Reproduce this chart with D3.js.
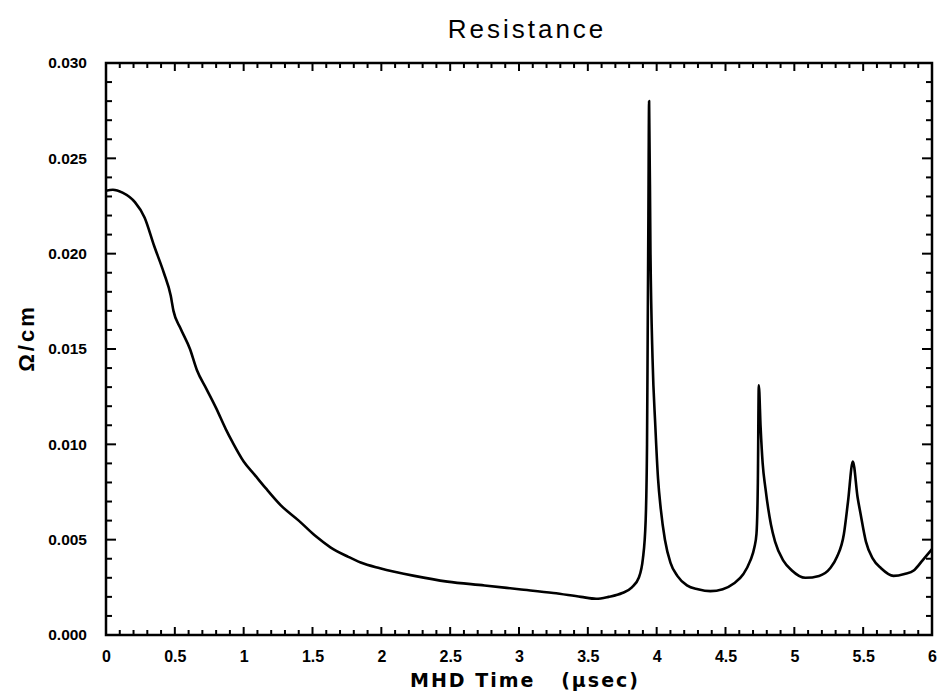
<!DOCTYPE html>
<html>
<head>
<meta charset="utf-8">
<script src="https://cdn.jsdelivr.net/npm/d3@7"></script>
<style>
  body { margin: 0; background: #fff; }
  text { font-family: "Liberation Sans", Arial, sans-serif; fill: #000; }
</style>
</head>
<body>
<div id="chart"></div>
<script>
// time (usec) and resistance (ohm/cm)
const times = [0, 0.05, 0.12, 0.21, 0.28, 0.35, 0.42, 0.47, 0.49, 0.54, 0.61, 0.66, 0.73, 0.80, 0.87, 0.92,
  1.0, 1.08, 1.16, 1.27, 1.40, 1.52, 1.63, 1.76, 1.85, 1.99, 2.24, 2.48, 2.75, 3.0, 3.25, 3.45, 3.56, 3.65, 3.75,
  3.82, 3.87, 3.90, 3.92, 3.93, 3.935, 3.94, 3.945, 3.955, 3.97, 3.99, 4.01, 4.03, 4.06, 4.10, 4.15, 4.22,
  4.30, 4.39, 4.48, 4.56, 4.63, 4.68, 4.71, 4.725, 4.735, 4.742, 4.755, 4.77, 4.79, 4.83, 4.86, 4.92, 4.98,
  5.08, 5.18, 5.26, 5.31, 5.36, 5.39, 5.425, 5.46, 5.48, 5.52, 5.57, 5.63, 5.72, 5.80, 5.87, 5.93, 6.0];
const resistance = [0.0233, 0.02335, 0.0232, 0.0227, 0.0219, 0.0204, 0.0190, 0.0178, 0.0170, 0.0161, 0.0150,
  0.0139, 0.0129, 0.0119, 0.0108, 0.0101, 0.0091, 0.0084, 0.0077, 0.0068, 0.0060, 0.0052, 0.0046, 0.0041, 0.0038,
  0.0035, 0.0031, 0.0028, 0.0026, 0.0024, 0.0022, 0.0020, 0.0019, 0.0020, 0.0022, 0.0025, 0.0030, 0.0040,
  0.0060, 0.0100, 0.0160, 0.0220, 0.0280, 0.0200, 0.0145, 0.0110, 0.0082, 0.0066, 0.0050, 0.0038, 0.0031,
  0.0026, 0.0024, 0.0023, 0.0024, 0.0027, 0.0032, 0.0039, 0.0046, 0.0053, 0.0080, 0.0131, 0.0109, 0.0090,
  0.0077, 0.0058, 0.0049, 0.0039, 0.0034, 0.0030, 0.0031, 0.0035, 0.0041, 0.0053, 0.0070, 0.0091, 0.0072,
  0.0064, 0.0049, 0.0040, 0.0035, 0.0031, 0.0032, 0.0034, 0.0039, 0.0045];

const xTicks = [0, 0.5, 1, 1.5, 2, 2.5, 3, 3.5, 4, 4.5, 5, 5.5, 6];
const xTickLabels = ["0", "0.5", "1", "1.5", "2", "2.5", "3", "3.5", "4", "4.5", "5", "5.5", "6"];
const yTicks = [0, 0.005, 0.010, 0.015, 0.020, 0.025, 0.030];
const yTickLabels = ["0.000", "0.005", "0.010", "0.015", "0.020", "0.025", "0.030"];

const width = 947, height = 694;
const margin = { top: 63, right: 15, bottom: 59, left: 106 };
const innerW = width - margin.left - margin.right;
const innerH = height - margin.top - margin.bottom;

const svg = d3.select('#chart')
  .append('svg')
  .attr('width', width)
  .attr('height', height);

const g = svg.append('g')
  .attr('transform', `translate(${margin.left}, ${margin.top})`);

const x = d3.scaleLinear().domain([0, 6]).range([0, innerW]);
const y = d3.scaleLinear().domain([0, 0.030]).range([innerH, 0]);

const minorX = d3.range(0, 61).map((i) => i / 10);
const minorY = d3.range(0, 31).map((i) => i / 1000);

// minor ticks, pointing inward on all four sides
const ticks = g.append('g').attr('stroke', '#000').attr('stroke-width', 2);
minorX.forEach((t) => {
  const major = Math.abs(t * 2 - Math.round(t * 2)) < 1e-6;
  const len = major ? 8 : 5;
  ticks.append('line').attr('x1', x(t)).attr('x2', x(t)).attr('y1', innerH).attr('y2', innerH - len);
  ticks.append('line').attr('x1', x(t)).attr('x2', x(t)).attr('y1', 0).attr('y2', len);
});
minorY.forEach((v) => {
  const major = Math.abs(v * 200 - Math.round(v * 200)) < 1e-6;
  const len = major ? 10 : 6;
  ticks.append('line').attr('y1', y(v)).attr('y2', y(v)).attr('x1', 0).attr('x2', len);
  ticks.append('line').attr('y1', y(v)).attr('y2', y(v)).attr('x1', innerW).attr('x2', innerW - len);
});

// frame
g.append('rect')
  .attr('width', innerW)
  .attr('height', innerH)
  .attr('fill', 'none')
  .attr('stroke', '#000')
  .attr('stroke-width', 2.5);

// tick labels
const xAxis = d3.axisBottom(x).tickValues(xTicks).tickSize(0).tickPadding(16)
  .tickFormat((d, i) => xTickLabels[i]);
g.append('g')
  .attr('transform', `translate(0, ${innerH})`)
  .call(xAxis)
  .call((s) => s.select('.domain').remove())
  .selectAll('text')
  .style('font-size', '16px')
  .style('font-weight', 'bold');

const yAxis = d3.axisLeft(y).tickValues(yTicks).tickSize(0).tickPadding(19)
  .tickFormat((d, i) => yTickLabels[i]);
g.append('g')
  .call(yAxis)
  .call((s) => s.select('.domain').remove())
  .selectAll('text')
  .style('font-size', '15.5px')
  .style('font-weight', 'bold');

// data line
const line = d3.line()
  .x((d) => x(d[0]))
  .y((d) => y(d[1]))
  .curve(d3.curveMonotoneX);

g.append('path')
  .datum(times.map((t, i) => [t, resistance[i]]))
  .attr('d', line)
  .attr('fill', 'none')
  .attr('stroke', '#000')
  .attr('stroke-width', 2.6)
  .attr('stroke-linejoin', 'round');

// titles
svg.append('text')
  .attr('x', 527)
  .attr('y', 38)
  .attr('text-anchor', 'middle')
  .style('font-size', '26px')
  .style('letter-spacing', '3px')
  .text('Resistance');

svg.append('text')
  .attr('x', 525)
  .attr('y', 687)
  .attr('text-anchor', 'middle')
  .style('font-family', '"DejaVu Sans", sans-serif')
  .style('font-size', '19px')
  .style('font-weight', 'bold')
  .style('letter-spacing', '2px')
  .attr('xml:space', 'preserve')
  .text('MHD Time   (\u03bcsec)');

svg.append('text')
  .attr('transform', 'translate(34, 338) rotate(-90)')
  .attr('text-anchor', 'middle')
  .style('font-size', '22px')
  .style('font-weight', 'bold')
  .style('letter-spacing', '3px')
  .text('\u03a9/cm');
</script>
</body>
</html>
